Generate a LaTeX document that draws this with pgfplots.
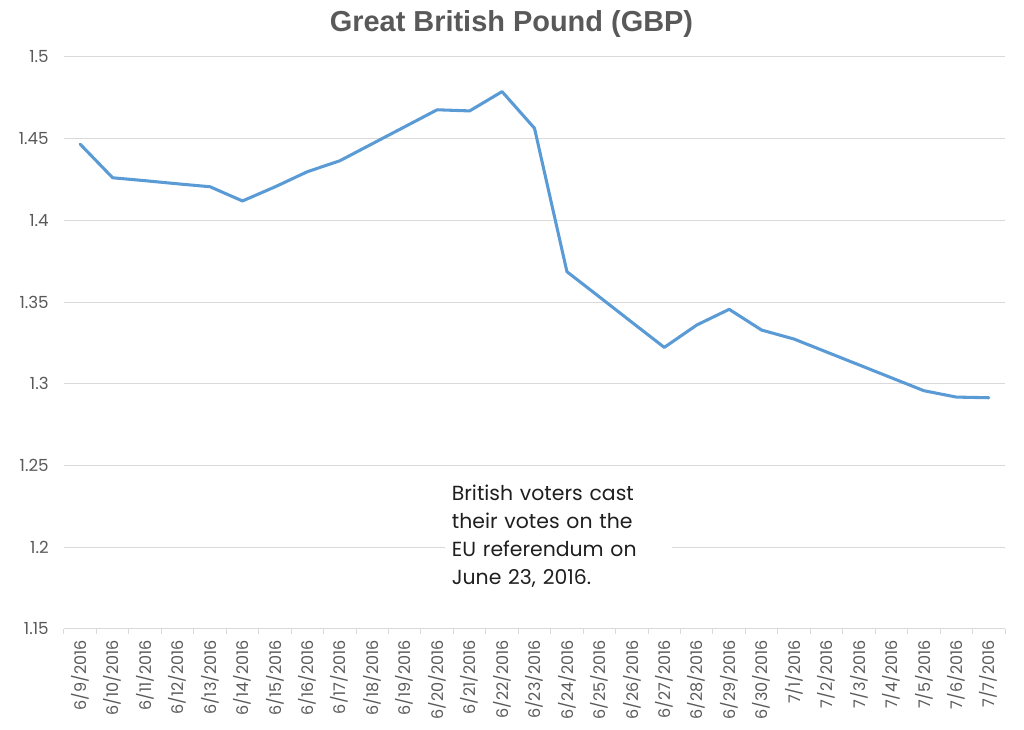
\documentclass[border=0pt]{standalone}
\usepackage{pgfplots}
\pgfplotsset{compat=1.18}
\usepackage{fontspec}
\setmainfont{Poppins}
\newfontfamily\titlefont{Liberation Sans}
\definecolor{gbpblue}{HTML}{5B9BD5}
\definecolor{gridgray}{HTML}{D9D9D9}
\definecolor{labelgray}{HTML}{595959}
\definecolor{notegray}{HTML}{1F1F1F}

\pgfplotstableread{
x y
0 1.4466
1 1.4261
2 1.4243
3 1.4224
4 1.4206
5 1.4119
6 1.4205
7 1.4298
8 1.4365
9 1.4469
10 1.4573
11 1.4677
12 1.4670
13 1.4788
14 1.4564
15 1.3686
16 1.3532
17 1.3377
18 1.3223
19 1.3360
20 1.3456
21 1.3329
22 1.3274
23 1.3195
24 1.3116
25 1.3037
26 1.2958
27 1.2919
28 1.2915
}\gbpdata

\begin{document}
\begin{tikzpicture}
\path[use as bounding box] (0,0) rectangle (768pt,547.5pt);
\node[anchor=base, font=\titlefont\bfseries\fontsize{21.7pt}{26pt}\selectfont, text=labelgray, inner sep=0pt] at (383.6pt,524pt) {Great British Pound (GBP)};
\begin{axis}[
  at={(48pt,75.75pt)}, anchor=south west,
  scale only axis, width=705.75pt, height=429pt,
  xmin=-0.5, xmax=28.5, ymin=1.15, ymax=1.5,
  axis x line*=bottom, axis y line*=left,
  axis line style={draw=gridgray, line width=0.75pt},
  y axis line style={draw=none},
  ytick={1.15,1.2,1.25,1.3,1.35,1.4,1.45,1.5},
  yticklabels={1.15,1.2,1.25,1.3,1.35,1.4,1.45,1.5},
  ytick style={draw=none},
  ymajorgrids, grid style={draw=gridgray, line width=0.75pt},
  xtick={0,...,28},
  xticklabels={6/9/2016,6/10/2016,6/11/2016,6/12/2016,6/13/2016,6/14/2016,6/15/2016,6/16/2016,6/17/2016,6/18/2016,6/19/2016,6/20/2016,6/21/2016,6/22/2016,6/23/2016,6/24/2016,6/25/2016,6/26/2016,6/27/2016,6/28/2016,6/29/2016,6/30/2016,7/1/2016,7/2/2016,7/3/2016,7/4/2016,7/5/2016,7/6/2016,7/7/2016},
  major x tick style={draw=none},
  minor xtick={-0.5,0.5,...,28.5},
  minor x tick style={draw=gridgray, line width=0.75pt},
  minor tick length=3.75pt, major tick length=0pt,
  tick align=outside,
  xticklabel style={rotate=90, anchor=east, font=\fontsize{12pt}{14pt}\selectfont, text=labelgray},
  xticklabel shift=5pt,
  yticklabel style={anchor=east, font=\fontsize{12.5pt}{14pt}\selectfont, text=labelgray},
  yticklabel shift=8pt,
  clip=false,
]
\addplot[gbpblue, line width=2.3pt, line join=round, line cap=round] table[x=x,y=y] {\gbpdata};
\node[anchor=north west, fill=white, inner xsep=5pt, inner ysep=3pt, text width=160pt, align=left,
  font=\fontsize{15.3pt}{20.8pt}\selectfont, text=notegray] at (axis cs:11.24,1.2405)
  {British voters cast\\their votes on the\\EU referendum on\\June 23, 2016.};
\end{axis}
\end{tikzpicture}
\end{document}
